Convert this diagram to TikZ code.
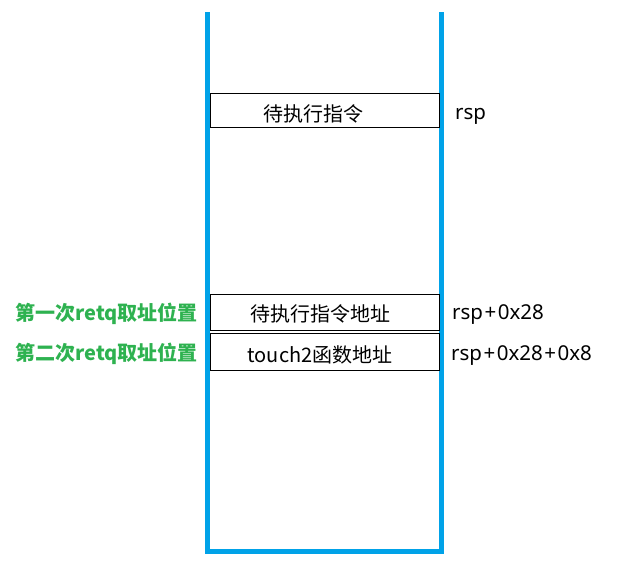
\documentclass[tikz,border=0pt]{standalone}
\usepackage{fontspec}
\setmainfont{Noto Sans CJK SC}
\newfontfamily\latinaddr{Noto Sans}
\definecolor{stackblue}{RGB}{0,162,232}
\definecolor{labgreen}{RGB}{46,178,80}
\newcommand{\pl}{\hspace{1.5pt}+\hspace{1.5pt}}
\begin{document}
\begin{tikzpicture}[x=1pt,y=-1pt,
  cell/.style={draw=black,line width=0.9pt,inner sep=0pt,minimum width=229pt,minimum height=35pt},
  celltext/.style={font=\fontsize{20}{24}\selectfont,inner sep=0pt,anchor=center},
  addr/.style={font=\latinaddr\fontsize{20.5}{24}\selectfont,inner sep=0pt,anchor=west},
  glab/.style={font=\bfseries\fontsize{20}{24}\selectfont,text=labgreen,inner sep=0pt,anchor=east}]
\useasboundingbox (0,0) rectangle (629,563);
\coordinate (tl) at (207.5,12);
\coordinate (bl) at (207.5,551);
\coordinate (br) at (441.5,551);
\coordinate (tr) at (441.5,12);
\draw[stackblue,line width=5pt,line join=miter] (tl) -- (bl) -- (br) -- (tr);
\node[cell,minimum height=34pt] (b1) at (324.5,110) {};
\node[celltext] (t1) at (313,114) {待执行指令};
\node[cell,minimum height=36pt] (b2) at (324.5,312) {};
\node[celltext] (t2) at (320,314) {待执行指令地址};
\node[cell,minimum height=37pt] (b3) at (324.5,351.5) {};
\node[celltext] (t3) at (320,355) {touch2函数地址};
\node[addr] (r1) at (455,116) {rsp};
\node[addr] (r2) at (452,315) {rsp\pl 0x28};
\node[addr] (r3) at (451,356) {rsp\pl 0x28\pl 0x8};
\node[glab] (g1) at (198,314) {第一次retq取址位置};
\node[glab] (g2) at (198,354) {第二次retq取址位置};
\end{tikzpicture}
\end{document}
